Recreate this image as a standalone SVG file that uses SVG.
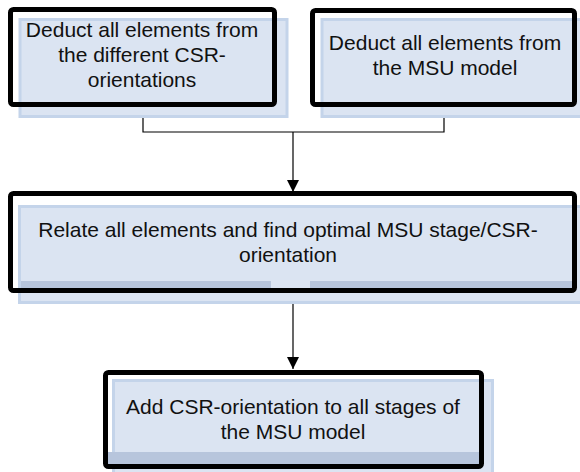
<svg xmlns="http://www.w3.org/2000/svg" width="580" height="472" viewBox="0 0 580 472">
  <style>
    .card { fill: #dbe4f2; stroke: #c4d4ea; stroke-width: 3; }
    .band { fill: #b7c5dc; }
    .frame { fill: none; stroke: #000; stroke-width: 5; }
    .label { font-family: "Liberation Sans", Arial, sans-serif; font-size: 21px; fill: #111; text-anchor: middle; }
    .wire { fill: none; stroke: #000; stroke-width: 1.2; }
  </style>
  <defs>
    <marker id="arrow" markerWidth="12" markerHeight="12" refX="12" refY="6" orient="auto" markerUnits="userSpaceOnUse">
      <path d="M0,0 L12,6 L0,12 Z" fill="#000"/>
    </marker>
  </defs>
  <rect width="580" height="472" fill="#fff"/>

  <!-- connectors -->
  <g id="connectors">
    <path class="wire" d="M143,107 V132 H444 V107"/>
    <path class="wire" d="M293,132 V192" marker-end="url(#arrow)"/>
    <path class="wire" d="M293,293 V369" marker-end="url(#arrow)"/>
  </g>

  <g id="node-csr">
    <rect class="card" x="20" y="19.5" width="267" height="97"/>
    <rect class="frame" x="10.5" y="9.5" width="264" height="95" rx="3"/>
    <text class="label" x="142" y="37">Deduct all elements from</text>
    <text class="label" x="142" y="62">the different CSR-</text>
    <text class="label" x="142" y="87">orientations</text>
  </g>

  <g id="node-msu">
    <rect class="card" x="322" y="19.5" width="262" height="97"/>
    <rect class="frame" x="312.5" y="10.5" width="262" height="94" rx="3"/>
    <text class="label" x="445" y="50">Deduct all elements from</text>
    <text class="label" x="445" y="75">the MSU model</text>
  </g>

  <g id="node-relate">
    <rect class="card" x="19.5" y="206.5" width="565" height="96"/>
    <rect class="band" x="21" y="281" width="250" height="8"/>
    <rect class="band" x="310" y="281" width="265" height="8"/>
    <rect class="frame" x="10.5" y="193.5" width="564" height="97" rx="3"/>
    <text class="label" x="288" y="237">Relate all elements and find optimal MSU stage/CSR-</text>
    <text class="label" x="288" y="262">orientation</text>
  </g>

  <g id="node-add">
    <rect class="card" x="113.5" y="380.5" width="379" height="96"/>
    <rect class="band" x="108" y="452" width="372" height="12"/>
    <rect class="frame" x="105.5" y="372.5" width="376" height="94" rx="3"/>
    <text class="label" x="293" y="414">Add CSR-orientation to all stages of</text>
    <text class="label" x="293" y="439">the MSU model</text>
  </g>
</svg>
